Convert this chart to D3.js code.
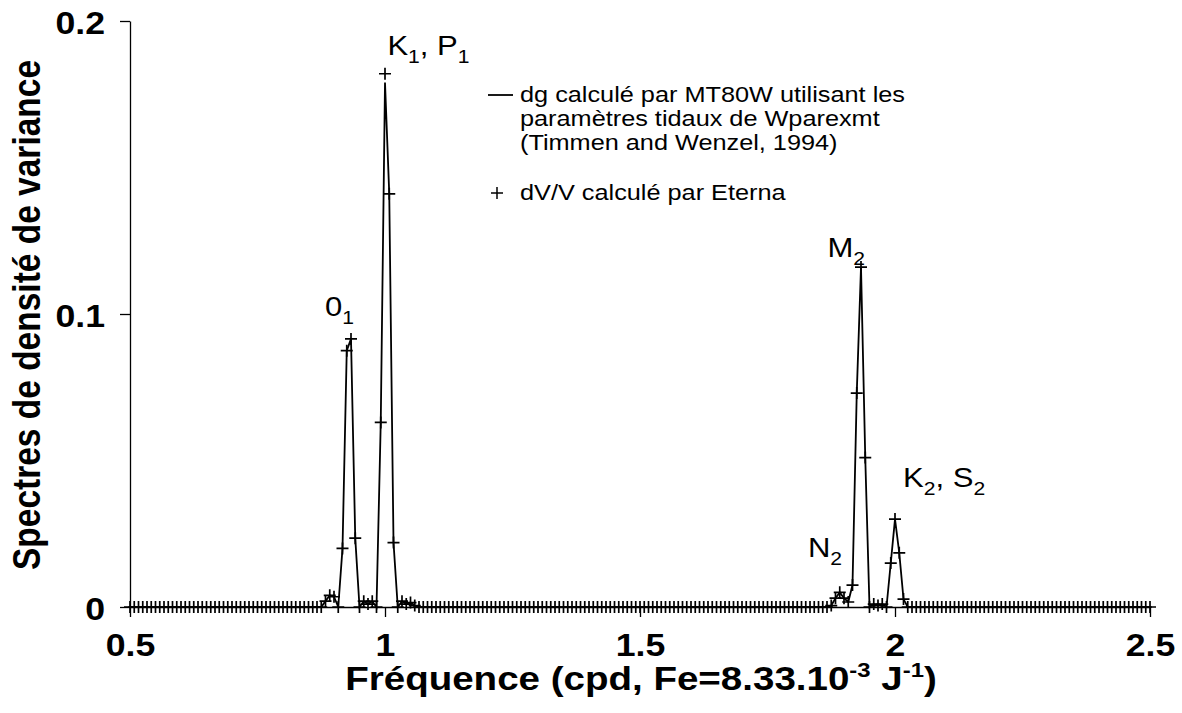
<!DOCTYPE html>
<html>
<head>
<meta charset="utf-8">
<script src="https://cdn.jsdelivr.net/npm/d3@7"></script>
<style>
  html, body { margin: 0; padding: 0; background: #fff; }
  svg { display: block; }
  text { font-family: "Liberation Sans", Arial, sans-serif; fill: #000; }
</style>
</head>
<body>
<svg id="chart" width="1182" height="713"></svg>
<script>
// ---------- DATA ----------
// Sampling step of the spectrum (cpd): Fe = 8.33e-3 = 1/120
const sampleStep = 1 / 120;
const firstIndex = 60;   // 0.5 cpd
// dV/V computed by Eterna (+ markers), one value per frequency sample 0.5 .. 2.5 cpd
const eternaValues = [
  0,0,0,0,0,0,0,0,0,0,0,0,0,0,0,0,0,0,0,0,
  0,0,0,0,0,0,0,0,0,0,0,0,0,0,0,0,0,0,0,0,
  0,0,0,0,0,0,0.002,0.004,0.0035,0,0.020,0.0875,0.0915,0.0235,0,0.002,0.001,0.002,0,0.063,
  0.182,0.141,0.022,0,0.002,0.001,0.0015,0.0005,0,0,0,0,0,0,0,0,0,0,0,0,
  0,0,0,0,0,0,0,0,0,0,0,0,0,0,0,0,0,0,0,0,
  0,0,0,0,0,0,0,0,0,0,0,0,0,0,0,0,0,0,0,0,
  0,0,0,0,0,0,0,0,0,0,0,0,0,0,0,0,0,0,0,0,
  0,0,0,0,0,0,0,0,0,0,0,0,0,0,0,0,0,0,0,0,
  0,0,0,0,0,0.0005,0.003,0.005,0.003,0.0017,0.0075,0.073,0.116,0.051,0,0.001,0.0005,0.001,0,0.015,
  0.030,0.0185,0.0027,0,0,0,0,0,0,0,0,0,0,0,0,0,0,0,0,0,
  0,0,0,0,0,0,0,0,0,0,0,0,0,0,0,0,0,0,0,0,
  0,0,0,0,0,0,0,0,0,0,0,0,0,0,0,0,0,0,0,0,
  0
];
// dg computed by MT80W (solid line)
const mt80wValues = [
  0,0,0,0,0,0,0,0,0,0,0,0,0,0,0,0,0,0,0,0,
  0,0,0,0,0,0,0,0,0,0,0,0,0,0,0,0,0,0,0,0,
  0,0,0,0,0,0,0.002,0.004,0.0035,0,0.020,0.0875,0.0915,0.0235,0,0.002,0.001,0.002,0,0.063,
  0.179,0.141,0.022,0,0.002,0.001,0.0015,0.0005,0,0,0,0,0,0,0,0,0,0,0,0,
  0,0,0,0,0,0,0,0,0,0,0,0,0,0,0,0,0,0,0,0,
  0,0,0,0,0,0,0,0,0,0,0,0,0,0,0,0,0,0,0,0,
  0,0,0,0,0,0,0,0,0,0,0,0,0,0,0,0,0,0,0,0,
  0,0,0,0,0,0,0,0,0,0,0,0,0,0,0,0,0,0,0,0,
  0,0,0,0,0,0.0005,0.003,0.005,0.003,0.0017,0.0075,0.073,0.116,0.051,0,0.001,0.0005,0.001,0,0.015,
  0.030,0.0185,0.0027,0,0,0,0,0,0,0,0,0,0,0,0,0,0,0,0,0,
  0,0,0,0,0,0,0,0,0,0,0,0,0,0,0,0,0,0,0,0,
  0,0,0,0,0,0,0,0,0,0,0,0,0,0,0,0,0,0,0,0,
  0
];
const xTickValues = [0.5, 1, 1.5, 2, 2.5];
const xTickLabels = ["0.5", "1", "1.5", "2", "2.5"];
const yTickValues = [0, 0.1, 0.2];
const yTickLabels = ["0", "0.1", "0.2"];
// peak labels (tidal waves), anchored on their peak
const peakLabels = [
  { parts: [["0", ""], ["1", "sub"]], f: 0.9295, v: 0.0915 },
  { parts: [["K", ""], ["1", "sub"], [", P", ""], ["1", "sub"]], f: 1.0027, v: 0.182 },
  { parts: [["M", ""], ["2", "sub"]], f: 1.9323, v: 0.116 },
  { parts: [["N", ""], ["2", "sub"]], f: 1.8960, v: 0.005 },
  { parts: [["K", ""], ["2", "sub"], [", S", ""], ["2", "sub"]], f: 2.0, v: 0.030 }
];
const legendLineText = ["dg calculé par MT80W utilisant les", "paramètres tidaux de Wparexmt", "(Timmen and Wenzel, 1994)"];
const legendMarkerText = "dV/V calculé par Eterna";
const xTitleParts = [["Fréquence (cpd, Fe=8.33.10", ""], ["-3", "sup"], [" J", ""], ["-1", "sup"], [")", ""]];
const yTitle = "Spectres de densité de variance";

// ---------- LAYOUT ----------
const SX = 1.15; // horizontal stretch of lettering in the reference
const svg = d3.select("#chart");
const x = d3.scaleLinear().domain([0.5, 2.5]).range([130, 1150]);
const y = d3.scaleLinear().domain([0, 0.2]).range([607, 21]);

const points = eternaValues.map((v, i) => ({ f: (firstIndex + i) * sampleStep, v }));
const linePts = mt80wValues.map((v, i) => ({ f: (firstIndex + i) * sampleStep, v }));

// axes
const xAxis = d3.axisBottom(x).tickValues(xTickValues).tickSize(10).tickSizeOuter(0)
  .tickFormat((d, i) => xTickLabels[i]);
const gx = svg.append("g").attr("transform", "translate(0,607)").call(xAxis);
gx.selectAll("text").attr("y", 0).attr("dy", 0)
  .attr("transform", `translate(0,49) scale(${SX},1)`)
  .style("font-size", "31px").style("font-weight", "bold");

const yAxis = d3.axisLeft(y).tickValues(yTickValues).tickSize(10).tickSizeOuter(0)
  .tickFormat((d, i) => yTickLabels[i]);
const gy = svg.append("g").attr("transform", "translate(130,0)").call(yAxis);
gy.selectAll("text").attr("x", 0).attr("dy", "0.36em")
  .attr("transform", `translate(-25,1) scale(${SX},1)`)
  .style("font-size", "31px").style("font-weight", "bold");

svg.selectAll(".domain, .tick line").attr("stroke", "#000").attr("stroke-width", 1.3);

// line series
const line = d3.line().x(d => x(d.f)).y(d => y(d.v));
svg.append("path").datum(linePts).attr("d", line)
  .attr("fill", "none").attr("stroke", "#000").attr("stroke-width", 1.8)
  .attr("stroke-linejoin", "miter");

// marker series
const m = 6;
svg.append("g").selectAll("path").data(points).join("path")
  .attr("d", d => `M${x(d.f) - m},${y(d.v)}H${x(d.f) + m}M${x(d.f)},${y(d.v) - m}V${y(d.v) + m}`)
  .attr("stroke", "#000").attr("stroke-width", 1.7).attr("fill", "none");

// helper for rich text with sub/superscripts
function richText(sel, parts, baseSize) {
  let shift = 0;
  parts.forEach(([t, kind]) => {
    const ts = sel.append("tspan").text(t);
    if (kind === "sub") {
      ts.attr("dy", baseSize * 0.3 - shift).style("font-size", (baseSize * 0.68) + "px");
      shift = baseSize * 0.3;
    } else if (kind === "sup") {
      ts.attr("dy", -baseSize * 0.38 - shift).style("font-size", (baseSize * 0.62) + "px");
      shift = -baseSize * 0.38;
    } else {
      ts.attr("dy", -shift).style("font-size", baseSize + "px");
      shift = 0;
    }
  });
}
function stretchedText(ax, ay) {
  return svg.append("text").attr("x", 0).attr("y", 0)
    .attr("transform", `translate(${ax},${ay}) scale(${SX},1)`);
}

// peak labels (positioned relative to the peaks)
const peakOffsets = [[-24, -23], [1, -19], [-33, -10], [-34, -35], [8, -32]];
peakLabels.forEach((p, i) => {
  const t = stretchedText(x(p.f) + peakOffsets[i][0], y(p.v) + peakOffsets[i][1]);
  richText(t, p.parts, 27);
});

// legend
const lg = svg.append("g");
lg.append("line").attr("x1", 488).attr("x2", 513).attr("y1", 95).attr("y2", 95)
  .attr("stroke", "#000").attr("stroke-width", 1.8);
legendLineText.forEach((s, i) => {
  stretchedText(520, 102 + i * 24).style("font-size", "22px").text(s);
});
lg.append("path").attr("d", "M491,193H503M497,187V199").attr("stroke", "#000").attr("stroke-width", 1.5);
stretchedText(520, 200).style("font-size", "22px").text(legendMarkerText);

// axis titles
const xt = stretchedText(641, 690).attr("text-anchor", "middle").style("font-weight", "bold");
richText(xt, xTitleParts, 33.5);

svg.append("text")
  .attr("transform", `translate(40,315) scale(${SX},1) rotate(-90)`)
  .attr("text-anchor", "middle").style("font-weight", "bold").style("font-size", "33.5px")
  .text(yTitle);
</script>
</body>
</html>
